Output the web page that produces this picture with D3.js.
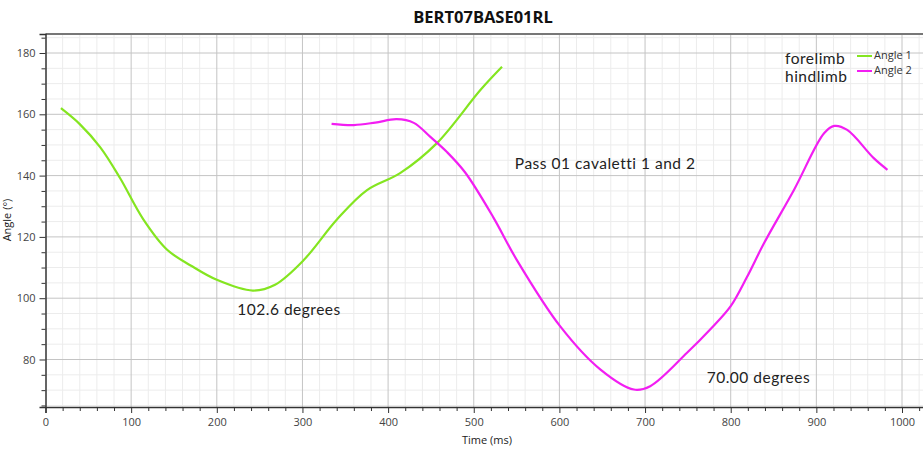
<!DOCTYPE html>
<html>
<head>
<meta charset="utf-8">
<script src="https://cdn.jsdelivr.net/npm/d3@7"></script>
<style>
  body { margin: 0; background: #fff; }
  svg { display: block; }
</style>
</head>
<body>
<div id="chart"></div>
<script>
// data
var title = "BERT07BASE01RL";
var seriesNames = ["Angle 1", "Angle 2"];
var legendLabels = ["forelimb", "hindlimb"];

// Angle 1 (forelimb)
var time1  = [18, 40, 64, 87, 114, 142, 170, 200, 242, 268, 301, 340, 375, 414, 457, 508, 533];
var angle1 = [162, 156.8, 149.2, 139.2, 125.8, 115.8, 110.6, 106, 102.5, 104.4, 112.3, 125.6, 135.2, 140.8, 150.6, 168, 175.5];

// Angle 2 (hindlimb)
var time2  = [334, 360, 385, 410, 430, 449, 469, 490, 523, 550, 601, 648, 687, 706, 749, 776, 800, 819, 839, 874, 909, 921, 936, 967, 983];
var angle2 = [156.9, 156.5, 157.3, 158.4, 157.2, 152.7, 147.6, 141, 126.3, 112.6, 90.8, 76.7, 70.2, 71.3, 82.2, 89.8, 97.4, 106.9, 118, 135.4, 153.8, 156.2, 154.9, 145.7, 141.9];

var xTicks = [0, 100, 200, 300, 400, 500, 600, 700, 800, 900, 1000];
var yTicks = [80, 100, 120, 140, 160, 180];

var notes = [
  {text: "Pass 01 cavaletti 1 and 2", t: 548, a: 142.2},
  {text: "102.6 degrees", t: 224, a: 94.6},
  {text: "70.00 degrees", t: 772, a: 72.3}
];

var colors = ["#84e520", "#f21ef2"];

var W = 923, H = 450;
var svg = d3.select("#chart").append("svg")
    .attr("width", W)
    .attr("height", H)
    .style("font-family", "'Open Sans', sans-serif");

var x = d3.scaleLinear().domain([0, 1030]).range([45.5, 927.7]);
var y = d3.scaleLinear().domain([64.5, 186.2]).range([407, 34]);

var x0 = x.range()[0], x1 = x.range()[1], yTop = y.range()[1], yBot = y.range()[0];
var xMinor = d3.range(20, 1040, 20).filter(d => d % 100 != 0);
var yMinor = d3.range(65, 187, 5).filter(d => d % 20 != 0);

// minor grid
svg.append("g").selectAll("line")
    .data(xMinor)
  .enter().append("line")
    .attr("x1", d => x(d)).attr("x2", d => x(d))
    .attr("y1", yTop).attr("y2", yBot)
    .attr("stroke", "#ececec").attr("stroke-width", 1);
svg.append("g").selectAll("line")
    .data(yMinor)
  .enter().append("line")
    .attr("x1", x0).attr("x2", x1)
    .attr("y1", d => y(d)).attr("y2", d => y(d))
    .attr("stroke", "#ececec").attr("stroke-width", 1);

// major grid
svg.append("g").selectAll("line")
    .data(xTicks.filter(d => d > 0))
  .enter().append("line")
    .attr("x1", d => x(d)).attr("x2", d => x(d))
    .attr("y1", yTop).attr("y2", yBot)
    .attr("stroke", "#c4c4c4").attr("stroke-width", 1);
svg.append("g").selectAll("line")
    .data(yTicks)
  .enter().append("line")
    .attr("x1", x0).attr("x2", x1)
    .attr("y1", d => y(d)).attr("y2", d => y(d))
    .attr("stroke", "#c4c4c4").attr("stroke-width", 1);

// top frame
svg.append("line")
    .attr("x1", x0).attr("x2", x1)
    .attr("y1", yTop).attr("y2", yTop)
    .attr("stroke", "#777").attr("stroke-width", 2);

// axes
svg.append("g")
    .attr("transform", "translate(0," + yBot + ")")
    .call(d3.axisBottom(x).tickValues(xTicks).tickSize(6).tickPadding(5).tickFormat(d3.format("d")));
svg.append("g")
    .attr("transform", "translate(0," + yBot + ")")
    .call(d3.axisBottom(x).tickValues(xMinor).tickSize(4).tickFormat(""))
    .select(".domain").remove();

svg.append("g")
    .attr("transform", "translate(" + x0 + ",0)")
    .call(d3.axisLeft(y).tickValues(yTicks).tickSize(6).tickPadding(4));
svg.append("g")
    .attr("transform", "translate(" + x0 + ",0)")
    .call(d3.axisLeft(y).tickValues(yMinor).tickSize(4).tickFormat(""))
    .select(".domain").remove();

svg.selectAll(".domain").attr("stroke", "#333").attr("stroke-width", 1.5);
svg.selectAll(".tick line").attr("stroke", "#333");
svg.selectAll(".tick text")
    .attr("fill", "#444")
    .style("font-size", "11px")
    .style("font-family", "'Open Sans', sans-serif");

// axis titles
svg.append("text")
    .attr("x", 487).attr("y", 444)
    .attr("text-anchor", "middle")
    .style("font-size", "11px")
    .attr("fill", "#222")
    .text("Time (ms)");
svg.append("text")
    .attr("transform", "translate(11,220) rotate(-90)")
    .attr("text-anchor", "middle")
    .style("font-size", "11px")
    .attr("fill", "#222")
    .text("Angle (°)");

// title
svg.append("text")
    .attr("x", 483).attr("y", 23)
    .attr("text-anchor", "middle")
    .style("font-size", "16.5px")
    .style("font-weight", "bold")
    .attr("fill", "#111")
    .text(title);

// lines
var line = d3.line()
    .x(d => x(d[0]))
    .y(d => y(d[1]))
    .curve(d3.curveCatmullRom.alpha(0.5));

var series = [d3.zip(time1, angle1), d3.zip(time2, angle2)];
svg.append("g").selectAll("path")
    .data(series)
  .enter().append("path")
    .attr("d", line)
    .attr("fill", "none")
    .attr("stroke", (d, i) => colors[i])
    .attr("stroke-width", 2.2)
    .attr("stroke-linejoin", "round");

// annotations
svg.append("g").selectAll("text")
    .data(notes)
  .enter().append("text")
    .attr("x", d => x(d.t))
    .attr("y", d => y(d.a))
    .style("font-family", "Lato, sans-serif")
    .style("font-size", "15.5px")
    .style("letter-spacing", "0.5px")
    .attr("fill", "#222")
    .text(d => d.text);

// legend
var legend = svg.append("g");
seriesNames.forEach(function(name, i) {
  var ly = 56 + i * 15;
  legend.append("text")
    .attr("x", 785).attr("y", ly + 8 + i * 3)
    .style("font-family", "Lato, sans-serif")
    .style("font-size", "15.5px")
    .style("letter-spacing", "0.5px")
    .attr("fill", "#222")
    .text(legendLabels[i]);
  legend.append("line")
    .attr("x1", 857).attr("x2", 872)
    .attr("y1", ly).attr("y2", ly)
    .attr("stroke", colors[i]).attr("stroke-width", 2);
  legend.append("text")
    .attr("x", 874).attr("y", ly + 3)
    .style("font-size", "11px")
    .attr("fill", "#333")
    .text(name);
});
</script>
</body>
</html>
